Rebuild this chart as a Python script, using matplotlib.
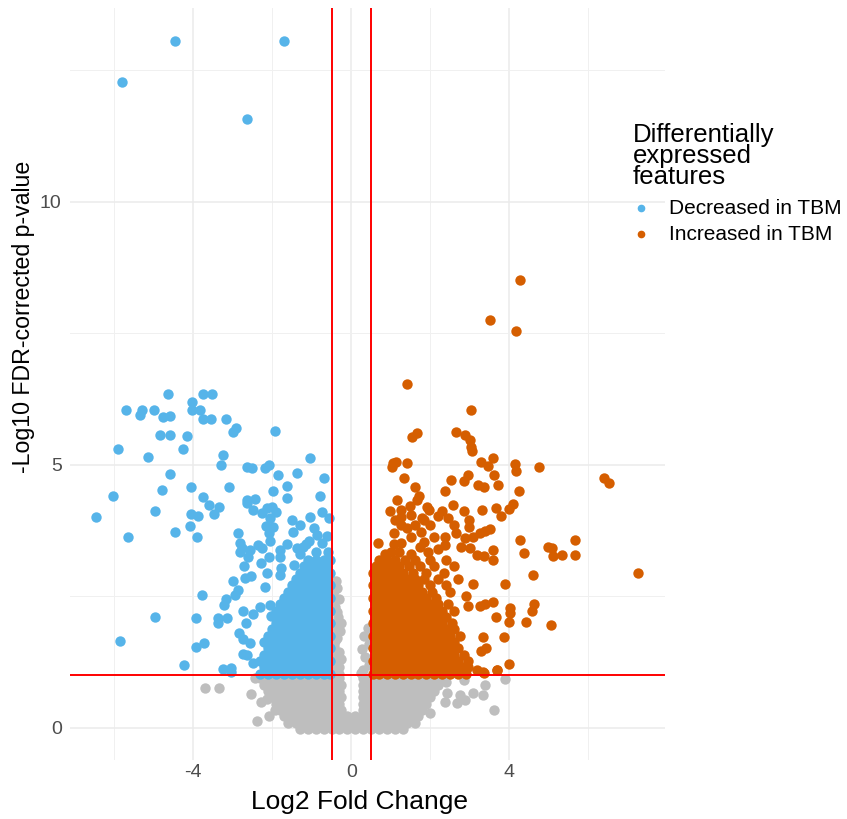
import matplotlib.pyplot as plt

plt.rcParams['font.family'] = ['Liberation Sans', 'DejaVu Sans']
plt.rcParams['axes.unicode_minus'] = False

# sparse decreased features (log2 fold change, -log10 fdr)
blue_sparse = [
    (-4.46, 13.05), (-1.71, 13.05), (-5.81, 12.28), (-2.64, 11.57),
    (-4.63, 6.34), (-3.75, 6.34), (-3.52, 6.34), (-4.03, 6.19), (-5.70, 6.05), (-5.31, 6.05),
    (-5.35, 5.94), (-4.99, 6.05), (-4.76, 5.91), (-4.59, 5.92), (-4.04, 6.05), (-3.83, 6.05),
    (-3.76, 5.87), (-3.56, 5.87), (-3.18, 5.87), (-2.99, 5.63), (-2.92, 5.69), (-1.94, 5.64),
    (-4.84, 5.57), (-4.59, 5.57), (-4.16, 5.55), (-5.91, 5.30), (-4.26, 5.30), (-5.14, 5.14),
    (-3.24, 5.18), (-3.29, 4.99), (-1.05, 5.12), (-2.65, 4.95), (-2.51, 4.93), (-2.19, 4.94),
    (-2.08, 4.99), (-1.86, 4.80), (-1.37, 4.85), (-0.69, 4.75), (-4.59, 4.83), (-6.02, 4.41),
    (-4.79, 4.52), (-4.05, 4.57), (-3.10, 4.58), (-3.76, 4.39), (-3.61, 4.23), (-3.35, 4.20),
    (-3.47, 4.07), (-4.98, 4.12), (-4.06, 4.07), (-3.87, 4.03), (-4.08, 3.84), (-4.45, 3.72),
    (-3.91, 3.63), (-6.45, 4.01), (-5.64, 3.63), (-1.97, 4.50), (-1.64, 4.60), (-1.64, 4.36),
    (-0.79, 4.41), (-2.63, 4.33), (-2.44, 4.35), (-2.63, 4.27), (-2.50, 4.14), (-2.27, 4.08),
    (-2.14, 4.17), (-2.01, 4.20), (-1.91, 4.10), (-2.06, 3.98), (-0.57, 3.98), (-2.17, 3.84),
    (-1.99, 3.82), (-2.08, 3.71), (-2.05, 3.56), (-2.87, 3.70), (-1.48, 3.72), (-2.81, 3.51),
    (-2.77, 3.41), (-2.82, 3.34), (-2.56, 3.38), (-2.37, 3.47), (-2.25, 3.41), (-2.09, 3.25),
    (-1.80, 3.39), (-1.64, 3.50), (-1.37, 3.41), (-1.23, 3.43), (-1.06, 3.56), (-0.86, 3.67),
    (-0.62, 3.65), (-0.74, 3.52), (-0.60, 3.34), (-2.62, 3.24), (-2.72, 3.08), (-2.29, 3.13),
    (-2.14, 2.95), (-1.81, 3.25), (-1.77, 3.03), (-1.80, 2.90), (-3.00, 2.80), (-2.69, 2.84),
    (-2.54, 2.89), (-2.18, 2.67), (-3.77, 2.53), (-2.86, 2.62), (-2.95, 2.53), (-3.17, 2.44),
    (-3.22, 2.34), (-4.96, 2.10), (-3.92, 2.08), (-3.37, 2.09), (-3.37, 1.99), (-3.14, 2.08),
    (-2.74, 2.22), (-2.48, 2.17), (-2.30, 2.30), (-2.07, 2.34), (-2.03, 2.12), (-2.67, 1.99),
    (-5.85, 1.66), (-3.73, 1.61), (-3.92, 1.53), (-2.84, 1.81), (-2.73, 1.69), (-2.56, 1.61),
    (-2.75, 1.41), (-2.65, 1.39), (-2.48, 1.23), (-4.23, 1.20), (-3.26, 1.11), (-3.05, 1.13),
    (-3.05, 1.07), (-1.45, 3.1), (-1.3, 3.3), (-0.9, 3.35), (-1.15, 3.5), (-0.95, 3.8),
    (-1.3, 3.85), (-0.75, 4.1), (-1.05, 4.0), (-1.5, 3.95), (-0.65, 3.15),
]

# dense block of decreased features, row by row: (fdr, [fold changes])
blue_rows = [
    (1.03, [-2.3, -2.1, -1.9, -1.7, -1.5, -1.3, -1.1, -0.9, -0.7, -0.54]),
    (1.15, [-2.2, -2.0, -1.8, -1.6, -1.4, -1.2, -1.0, -0.8, -0.62]),
    (1.27, [-2.3, -2.1, -1.9, -1.7, -1.5, -1.3, -1.1, -0.9, -0.7, -0.54]),
    (1.39, [-2.2, -2.0, -1.8, -1.6, -1.4, -1.2, -1.0, -0.8, -0.62]),
    (1.51, [-2.1, -1.9, -1.7, -1.5, -1.3, -1.1, -0.9, -0.7, -0.54]),
    (1.63, [-2.2, -2.0, -1.8, -1.6, -1.4, -1.2, -1.0, -0.8, -0.62]),
    (1.75, [-2.1, -1.9, -1.7, -1.5, -1.3, -1.1, -0.9, -0.7, -0.54]),
    (1.87, [-2.0, -1.8, -1.6, -1.4, -1.2, -1.0, -0.8, -0.62]),
    (1.99, [-1.9, -1.7, -1.5, -1.3, -1.1, -0.9, -0.7, -0.54]),
    (2.11, [-1.8, -1.6, -1.4, -1.2, -1.0, -0.8, -0.62]),
    (2.23, [-1.9, -1.7, -1.5, -1.3, -1.1, -0.9, -0.7, -0.54]),
    (2.35, [-1.8, -1.6, -1.4, -1.2, -1.0, -0.8, -0.62]),
    (2.47, [-1.7, -1.5, -1.3, -1.1, -0.9, -0.7, -0.54]),
    (2.59, [-1.6, -1.4, -1.2, -1.0, -0.8, -0.62]),
    (2.71, [-1.5, -1.3, -1.1, -0.9, -0.7, -0.54]),
    (2.83, [-1.4, -1.2, -1.0, -0.8, -0.62]),
    (2.95, [-1.3, -1.1, -0.9, -0.7, -0.54]),
    (3.07, [-1.2, -1.0, -0.8, -0.62]),
    (3.19, [-1.1, -0.9, -0.7, -0.54]),
]

# sparse increased features
orange_sparse = [
    (4.27, 8.51), (3.51, 7.75), (4.17, 7.54), (1.40, 6.53), (3.02, 6.04), (1.54, 5.53),
    (1.67, 5.61), (2.65, 5.62), (2.88, 5.57), (3.00, 5.47), (3.04, 5.34), (3.06, 5.27),
    (1.06, 5.03), (1.12, 5.06), (1.40, 5.03), (1.04, 4.96), (1.33, 4.74), (1.60, 4.58),
    (1.72, 4.41), (1.67, 4.34), (3.28, 5.05), (3.47, 4.98), (3.59, 5.13), (4.14, 5.01),
    (4.16, 4.88), (4.76, 4.95), (2.52, 4.71), (2.84, 4.70), (2.96, 4.81), (3.20, 4.62),
    (3.37, 4.57), (3.60, 4.81), (3.71, 4.61), (4.24, 4.51), (2.36, 4.50), (6.39, 4.74),
    (6.52, 4.65), (1.16, 4.33), (0.99, 4.13), (1.25, 4.14), (1.49, 4.22), (1.91, 4.20),
    (1.97, 4.14), (1.26, 4.01), (1.26, 3.86), (1.78, 3.98), (1.85, 3.95), (2.20, 4.03),
    (2.30, 4.13), (2.46, 3.98), (2.58, 4.24), (2.84, 4.13), (2.97, 3.95), (3.30, 4.15),
    (3.66, 4.17), (3.80, 4.03), (3.99, 4.16), (4.10, 4.25), (1.09, 3.70), (1.09, 3.50),
    (1.26, 3.52), (1.52, 3.63), (1.76, 3.72), (1.74, 3.44), (1.84, 3.53), (2.09, 3.62),
    (2.37, 3.63), (2.38, 3.47), (2.65, 3.70), (2.78, 3.44), (2.88, 3.60), (2.99, 3.82),
    (3.09, 3.63), (3.26, 3.70), (3.38, 3.74), (3.51, 3.78), (3.00, 3.41), (3.58, 3.39),
    (4.28, 3.57), (4.38, 3.33), (4.97, 3.44), (5.09, 3.41), (5.11, 3.27), (5.33, 3.29),
    (5.65, 3.29), (5.65, 3.57), (7.26, 2.95), (0.68, 3.52), (3.17, 3.29), (3.36, 3.27),
    (3.58, 3.20), (4.59, 2.91), (3.89, 2.74), (3.09, 2.74), (2.90, 2.51), (2.96, 2.32),
    (3.25, 2.32), (3.38, 2.36), (3.59, 2.39), (4.02, 2.27), (4.02, 2.18), (3.98, 2.02),
    (3.66, 2.11), (4.62, 2.36), (4.57, 2.22), (4.42, 2.02), (5.06, 1.95), (3.87, 1.73),
    (3.33, 1.72), (3.40, 1.51), (3.28, 1.46), (4.00, 1.22), (3.70, 1.10), (3.17, 1.10),
    (3.34, 1.06), (2.95, 1.15), (3.68, 1.10), (3.36, 1.04), (2.92, 1.16),
    (0.85, 3.3), (1.2, 3.35), (1.5, 3.3), (1.95, 3.35), (2.2, 3.4), (1.4, 3.8), (1.6, 3.85),
    (2.0, 3.85), (1.1, 3.95), (1.5, 4.05), (2.6, 3.85), (1.0, 3.35), (0.75, 3.05),
]

# dense block of increased features, row by row
orange_rows = [
    (1.03, [0.54, 0.7, 0.9, 1.1, 1.3, 1.5, 1.7, 1.9, 2.1, 2.3, 2.5, 2.7, 2.9]),
    (1.15, [0.62, 0.8, 1.0, 1.2, 1.4, 1.6, 1.8, 2.0, 2.2, 2.4, 2.6, 2.8]),
    (1.27, [0.54, 0.7, 0.9, 1.1, 1.3, 1.5, 1.7, 1.9, 2.1, 2.3, 2.5, 2.7, 2.95]),
    (1.39, [0.62, 0.8, 1.0, 1.2, 1.4, 1.6, 1.8, 2.0, 2.2, 2.4, 2.6, 2.85]),
    (1.51, [0.54, 0.7, 0.9, 1.1, 1.3, 1.5, 1.7, 1.9, 2.1, 2.3, 2.5, 2.7]),
    (1.63, [0.62, 0.8, 1.0, 1.2, 1.4, 1.6, 1.8, 2.0, 2.2, 2.4, 2.6]),
    (1.75, [0.54, 0.7, 0.9, 1.1, 1.3, 1.5, 1.7, 1.9, 2.1, 2.3, 2.5, 2.75]),
    (1.87, [0.62, 0.8, 1.0, 1.2, 1.4, 1.6, 1.8, 2.0, 2.2, 2.4, 2.6]),
    (1.99, [0.54, 0.7, 0.9, 1.1, 1.3, 1.5, 1.7, 1.9, 2.1, 2.3, 2.55]),
    (2.11, [0.62, 0.8, 1.0, 1.2, 1.4, 1.6, 1.8, 2.0, 2.2, 2.4]),
    (2.23, [0.54, 0.7, 0.9, 1.1, 1.3, 1.5, 1.7, 1.9, 2.1, 2.3, 2.6]),
    (2.35, [0.62, 0.8, 1.0, 1.2, 1.4, 1.6, 1.8, 2.0, 2.2, 2.45]),
    (2.47, [0.54, 0.7, 0.9, 1.1, 1.3, 1.5, 1.7, 1.9, 2.15]),
    (2.59, [0.62, 0.8, 1.0, 1.2, 1.4, 1.6, 1.8, 2.05, 2.5]),
    (2.71, [0.54, 0.7, 0.9, 1.1, 1.3, 1.5, 1.7, 2.0, 2.4]),
    (2.83, [0.62, 0.8, 1.0, 1.2, 1.4, 1.6, 1.85, 2.2, 2.7]),
    (2.95, [0.54, 0.7, 0.9, 1.1, 1.3, 1.55, 1.9, 2.35]),
    (3.07, [0.62, 0.8, 1.0, 1.2, 1.45, 1.75, 2.1, 2.6]),
    (3.19, [0.7, 0.9, 1.1, 1.35, 1.6, 2.0, 2.4]),
]

# non-significant features, row by row
gray_rows = [
    (-0.02, [-1.3, -1.1, -0.9, -0.7, -0.5, -0.3, -0.1, 0.1, 0.3, 0.5, 0.7, 0.9, 1.1, 1.3]),
    (0.10, [-1.6, -1.4, -1.2, -1.0, -0.8, -0.6, -0.4, -0.2, 0.0, 0.2, 0.4, 0.6, 0.8, 1.0, 1.2, 1.4, 1.6]),
    (0.22, [-1.7, -1.5, -1.3, -1.1, -0.9, -0.7, -0.5, -0.3, -0.1, 0.1, 0.3, 0.5, 0.7, 0.9, 1.1, 1.3, 1.5, 1.7]),
    (0.34, [-1.8, -1.6, -1.4, -1.2, -1.0, -0.8, -0.6, -0.4, -0.25, 0.3, 0.45, 0.6, 0.8, 1.0, 1.2, 1.4, 1.6, 1.8]),
    (0.46, [-1.9, -1.7, -1.5, -1.3, -1.1, -0.9, -0.7, -0.5, -0.3, 0.3, 0.5, 0.7, 0.9, 1.1, 1.3, 1.5, 1.7, 1.9]),
    (0.58, [-2.0, -1.8, -1.6, -1.4, -1.2, -1.0, -0.8, -0.6, -0.4, -0.25, 0.3, 0.45, 0.6, 0.8, 1.0, 1.2, 1.4, 1.6, 1.8, 2.0]),
    (0.70, [-2.1, -1.9, -1.7, -1.5, -1.3, -1.1, -0.9, -0.7, -0.5, -0.3, 0.3, 0.5, 0.7, 0.9, 1.1, 1.3, 1.5, 1.7, 1.9, 2.1]),
    (0.82, [-2.2, -2.0, -1.8, -1.6, -1.4, -1.2, -1.0, -0.8, -0.6, -0.4, -0.25, 0.3, 0.45, 0.6, 0.8, 1.0, 1.2, 1.4, 1.6, 1.8, 2.0, 2.2]),
    (0.94, [-2.45, -2.3, -2.1, -1.9, -1.7, -1.5, -1.3, -1.1, -0.9, -0.7, -0.5, -0.3, 0.3, 0.5, 0.7, 0.9, 1.1, 1.3, 1.5, 1.7, 1.9, 2.1, 2.25]),
]

gray_extra = [
    (-0.45, 1.1), (-0.3, 1.15), (-0.42, 1.3), (-0.25, 1.3), (-0.3, 1.45), (-0.45, 1.55), (-0.35, 1.7),
    (-0.28, 1.85), (-0.45, 1.95), (-0.25, 2.0), (-0.33, 2.1), (-0.42, 2.3), (-0.3, 2.45), (-0.45, 2.6),
    (-0.38, 2.8), (-0.4, 1.2), (-0.35, 1.4), (-0.4, 1.65), (-0.4, 1.85), (-0.35, 2.2), (-0.4, 2.45),
    (-0.35, 2.65), (-0.42, 2.0), (-0.3, 1.02),
    (0.25, 1.05), (0.3, 1.1), (0.45, 1.2), (0.35, 1.35), (0.28, 1.5), (0.45, 1.6), (0.33, 1.75), (0.42, 1.9),
    (-3.70, 0.76), (-3.35, 0.76), (-2.55, 0.65), (-2.29, 0.50), (-2.14, 0.55), (-2.38, 0.13), (-2.08, 0.23),
    (-1.93, 0.34), (2.40, 0.88), (2.84, 0.91), (3.38, 0.82), (3.89, 0.93), (3.09, 0.66), (3.34, 0.63),
    (2.67, 0.47), (2.88, 0.53), (2.75, 0.63), (2.37, 0.50), (1.99, 0.28), (3.60, 0.34), (2.41, 0.66),
]


def unpack(rows, extra):
    xs = [x for y, row in rows for x in row] + [p[0] for p in extra]
    ys = [y for y, row in rows for x in row] + [p[1] for p in extra]
    return xs, ys


gray_x, gray_y = unpack(gray_rows, gray_extra)
blue_x, blue_y = unpack(blue_rows, blue_sparse)
orange_x, orange_y = unpack(orange_rows, orange_sparse)

col_up = '#D55E00'
col_down = '#56B4E9'
col_ns = '#BEBEBE'

fig = plt.figure(figsize=(8.47, 8.19), dpi=100)
ax = fig.add_axes([70 / 847, 59 / 819, 595 / 847, 752 / 819])

ax.scatter(gray_x, gray_y, s=56, color=col_ns, linewidths=0, zorder=2)
ax.scatter(blue_x, blue_y, s=56, color=col_down, linewidths=0, zorder=3)
ax.scatter(orange_x, orange_y, s=56, color=col_up, linewidths=0, zorder=3)

ax.axvline(-0.5, color='red', lw=1.4, zorder=4)
ax.axvline(0.5, color='red', lw=1.4, zorder=4)
ax.axhline(1.0, color='red', lw=1.4, zorder=4)

ax.set_xlim(-7.12, 7.94)
ax.set_ylim(-0.61, 13.68)
ax.set_xticks([-4, 0, 4])
ax.set_yticks([0, 5, 10])
ax.set_xticks([-6, -2, 2, 6], minor=True)
ax.set_yticks([2.5, 7.5, 12.5], minor=True)
ax.grid(True, which='major', color='#EBEBEB', lw=1.1, zorder=0)
ax.grid(True, which='minor', color='#F0F0F0', lw=0.7, zorder=0)
ax.set_axisbelow(True)
for s in ax.spines.values():
    s.set_visible(False)
ax.tick_params(which='both', length=0)
ax.tick_params(axis='x', pad=3, labelsize=14, labelcolor='#4D4D4D')
ax.tick_params(axis='y', pad=6, labelsize=14, labelcolor='#4D4D4D')

fig.text(359 / 847, 1 - 809 / 819, 'Log2 Fold Change', ha='center', va='baseline', fontsize=19)
fig.text(24 / 847, 1 - 317 / 819, '-Log10 FDR-corrected p-value', ha='center', va='center',
         rotation=90, fontsize=16.7)

# legend (baseline of the last title line)
fig.text(633 / 847, 1 - 184 / 819, 'Differentially\nexpressed\nfeatures', ha='left', va='baseline',
         fontsize=18.5, linespacing=0.85)
for col, lab, yc in [(col_down, 'Decreased in TBM', 208), (col_up, 'Increased in TBM', 234)]:
    fig.lines.append(plt.Line2D([641 / 847], [1 - yc / 819], marker='o', markersize=4.5, color=col,
                                transform=fig.transFigure, linestyle='none'))
    fig.text(669 / 847, 1 - yc / 819, lab, ha='left', va='center', fontsize=15)

fig.savefig('out.png', dpi=100)
